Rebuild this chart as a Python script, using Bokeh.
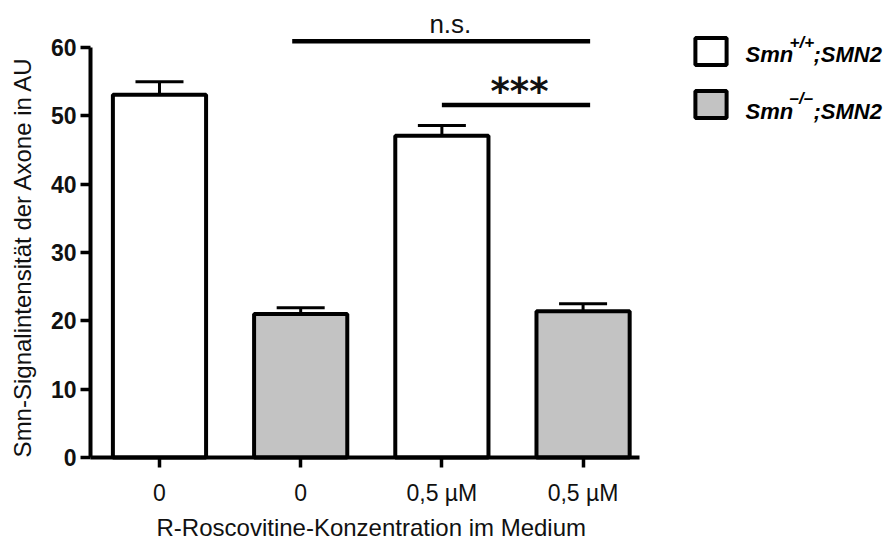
import math
from bokeh.plotting import figure
from bokeh.models import (Range1d, FixedTicker, Label, Legend, LegendItem,
                          ColumnDataSource)
from bokeh.embed import file_html
from bokeh.resources import INLINE
from bokeh.core.properties import value

# ---------------- data ----------------
positions = [0, 1, 2, 3]
tick_labels = ["0", "0", "0,5 µM", "0,5 µM"]
genotypes = ["wt", "ko", "wt", "ko"]
means = [53.1, 21.0, 47.1, 21.4]
errors = [1.9, 0.9, 1.5, 1.1]
y_ticks = [0, 10, 20, 30, 40, 50, 60]

sig_start = [0.94, 2.0]
sig_end = [3.05, 3.05]
sig_level = [60.9, 51.6]
sig_labels = ["n.s.", "***"]

legend_colors = {"wt": "#ffffff", "ko": "#c3c3c3"}
x_title = "R-Roscovitine-Konzentration im Medium"
y_title = "Smn-Signalintensität der Axone in AU"

FONT = "Liberation Sans"
X_AXIS_START, X_AXIS_END = -0.4887, 3.40
Y_AXIS_START, Y_AXIS_END = 0, 60

p = figure(width=886, height=543,
           x_range=Range1d(-1.126, 5.149), y_range=Range1d(-12.585, 66.88),
           output_backend="svg", toolbar_location=None,
           min_border_left=0, min_border_right=0,
           min_border_top=0, min_border_bottom=0)
p.outline_line_color = None
p.xgrid.visible = False
p.ygrid.visible = False
p.background_fill_color = "white"
p.border_fill_color = "white"

renderers = {}
for g in ["wt", "ko"]:
    idx = [i for i, gg in enumerate(genotypes) if gg == g]
    src = ColumnDataSource(dict(x=[positions[i] for i in idx],
                                top=[means[i] for i in idx]))
    renderers[g] = p.vbar(x="x", top="top", bottom=0, width=0.66, source=src,
                          fill_color=legend_colors[g], line_color="black",
                          line_width=4)

# error bars
err_top = [m + e for m, e in zip(means, errors)]
p.segment(x0=positions, y0=means, x1=positions, y1=err_top,
          line_color="black", line_width=3)
p.segment(x0=[x - 0.17 for x in positions], y0=err_top,
          x1=[x + 0.17 for x in positions], y1=err_top,
          line_color="black", line_width=3)

# significance bars
p.segment(x0=sig_start, y0=sig_level, x1=sig_end, y1=sig_level,
          line_color="black", line_width=4.5)
p.text(x=[2.06], y=[63.4], text=[sig_labels[0]], text_align="center",
       text_baseline="alphabetic", text_font=value(FONT),
       text_font_size="26px", text_color="#111111")
p.text(x=[2.55], y=[53.5], text=[sig_labels[1]], text_align="center",
       text_baseline="middle", text_font=value("DejaVu Sans"),
       text_font_style="bold", text_font_size="37px", text_color="#111111")

# axes (drawn at fixed data locations inside the full-canvas frame)
p.xaxis.fixed_location = Y_AXIS_START
p.yaxis.fixed_location = X_AXIS_START
p.xaxis.ticker = FixedTicker(ticks=positions)
p.xaxis.major_label_overrides = {pos: lab for pos, lab in zip(positions, tick_labels)}
p.xaxis.bounds = (X_AXIS_START, X_AXIS_END)
p.yaxis.ticker = FixedTicker(ticks=y_ticks)
p.yaxis.bounds = (Y_AXIS_START, Y_AXIS_END)
for ax in (p.xaxis[0], p.yaxis[0]):
    ax.axis_line_width = 4
    ax.axis_line_color = "black"
    ax.major_tick_line_width = 3.5
    ax.major_tick_line_color = "black"
    ax.major_tick_out = 10
    ax.major_tick_in = 0
    ax.minor_tick_line_color = None
    ax.major_label_text_font = FONT
    ax.major_label_text_color = "#111111"

p.yaxis.major_label_text_font_size = "23px"
p.yaxis.major_label_text_font_style = "bold"
p.yaxis.major_label_standoff = 4

p.xaxis.major_label_text_font_size = "23px"
p.xaxis.major_label_standoff = 12

# axis titles
p.add_layout(Label(x=1.5, y=-10.24, text=x_title,
                   text_font=FONT, text_font_size="24px", text_color="#111111",
                   text_align="center", text_baseline="middle"))
p.add_layout(Label(x=-0.970, y=29.4, text=y_title,
                   angle=math.pi / 2, text_font=FONT, text_font_size="24px",
                   text_color="#111111", text_align="center",
                   text_baseline="middle"))

# legend boxes
legend = Legend(items=[LegendItem(label=" ", renderers=[renderers["wt"]]),
                       LegendItem(label=" ", renderers=[renderers["ko"]])],
                location=(691, 422.5), orientation="vertical",
                glyph_width=39, glyph_height=34, spacing=19,
                label_width=0, label_height=10, label_standoff=0,
                label_text_font_size="4px", padding=0, margin=0,
                border_line_alpha=0, background_fill_alpha=0)
p.add_layout(legend, "center")

# legend texts (main, superscript, suffix)
legend_rows = [("Smn", "+/+", ";SMN2", 488.7, 501.5),
               ("Smn", "–/–", ";SMN2", 432.0, 445.0)]
for main, sup, suffix, yb, ys in legend_rows:
    p.add_layout(Label(x=745, y=yb, x_units="screen", y_units="screen", text=main,
                       text_font=FONT, text_font_style="bold italic",
                       text_font_size="22px", text_color="black",
                       text_baseline="alphabetic"))
    p.add_layout(Label(x=789, y=ys, x_units="screen", y_units="screen", text=sup,
                       text_font=FONT, text_font_style="bold italic",
                       text_font_size="17px", text_color="black",
                       text_baseline="alphabetic"))
    p.add_layout(Label(x=813, y=yb, x_units="screen", y_units="screen", text=suffix,
                       text_font=FONT, text_font_style="bold italic",
                       text_font_size="22px", text_color="black",
                       text_baseline="alphabetic"))

open("out.html", "w").write(file_html(p, INLINE))
